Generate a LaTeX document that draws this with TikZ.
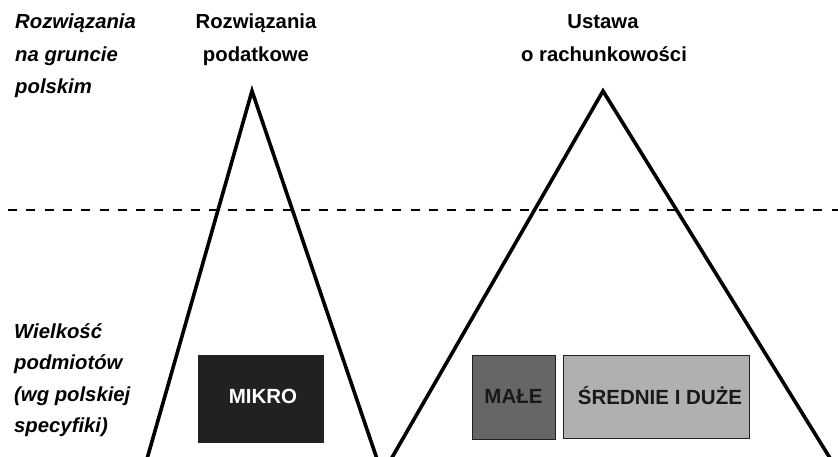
\documentclass[tikz,border=0pt]{standalone}
\usepackage{fontspec}
\setmainfont{Liberation Sans}
\begin{document}
\begin{tikzpicture}[x=1pt,y=-1pt,
  txt/.style={font=\fontsize{20.3}{24}\selectfont\bfseries, inner sep=0pt},
  itxt/.style={txt, font=\fontsize{20.3}{24}\selectfont\bfseries\itshape, anchor=base west},
  ctxt/.style={txt, anchor=base},
  leg/.style={line width=3.6pt, line join=miter},
  level/.style={line width=2pt, dash pattern=on 9pt off 9.3pt},
  sizebox/.style={draw=black!87, line width=1pt, inner sep=0pt, font=\fontsize{20.5}{24}\selectfont\bfseries}
]
\useasboundingbox (0,0) rectangle (838,456);
\fill[white] (0,0) rectangle (838,456);

% dashed level line
\coordinate (dL) at (8,210);
\coordinate (dR) at (838,210);
\draw[level] (dL) -- (dR);

% left triangle
\coordinate (a1) at (252,91);
\coordinate (l1) at (146.4,461);
\coordinate (r1) at (377.7,461);
\draw[leg] (l1) -- (a1) -- (r1);

% right triangle
\coordinate (a2) at (603,91);
\coordinate (l2) at (390.0,461);
\coordinate (r2) at (831.8,461);
\draw[leg] (l2) -- (a2) -- (r2);

% headings
\node[itxt] (h1) at (15,28) {Rozwiązania};
\node[itxt] (h2) at (15,61) {na gruncie};
\node[itxt] (h3) at (15,93) {polskim};

\node[ctxt] (p1) at (256,28) {Rozwiązania};
\node[ctxt] (p2) at (256,61) {podatkowe};

\node[ctxt] (u1) at (603,28) {Ustawa};
\node[ctxt] (u2) at (604,61) {o rachunkowości};

\node[itxt] (w1) at (14,338) {Wielkość};
\node[itxt] (w2) at (14,369) {podmiotów};
\node[itxt] (w3) at (14,401) {(wg polskiej};
\node[itxt] (w4) at (14,432) {specyfiki)};

% size boxes
\node[sizebox, fill=black!87, text=white, minimum width=125pt, minimum height=87pt] (mikro) at (260.5,398.5) {\raisebox{4pt}{\hspace{5pt}MIKRO}};
\node[sizebox, fill=black!60, text=black!90, minimum width=83pt, minimum height=84pt] (male) at (513.5,397) {\raisebox{2pt}{MAŁE}};
\node[sizebox, fill=black!31, text=black!90, minimum width=186pt, minimum height=83pt] (srednie) at (656,396.5) {\raisebox{2pt}{\hspace{8pt}ŚREDNIE I DUŻE}};
\end{tikzpicture}
\end{document}
